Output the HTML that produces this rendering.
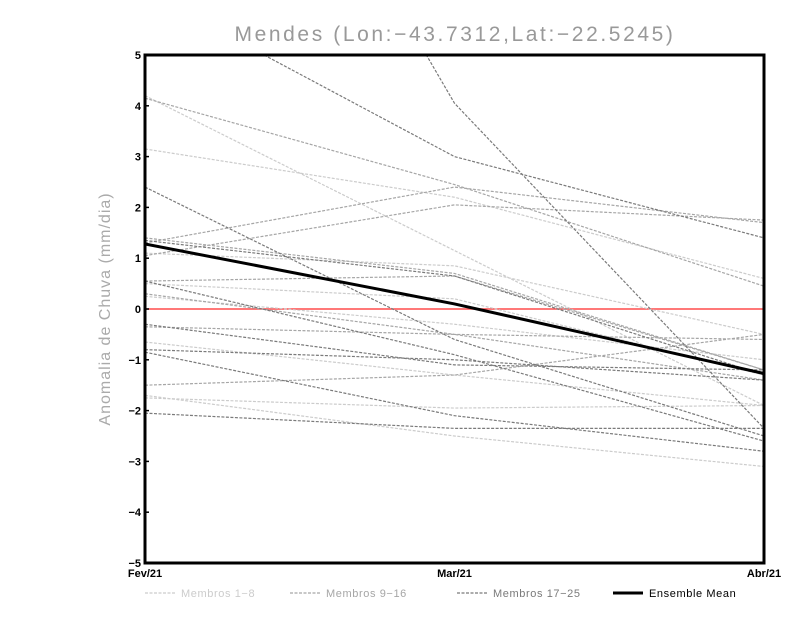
<!DOCTYPE html>
<html><head><meta charset="utf-8"><style>
body{margin:0;background:#fff;width:800px;height:618px;overflow:hidden}
svg{display:block}
text{font-family:"Liberation Sans",sans-serif}
</style></head><body>
<svg id="chart" width="800" height="618" xmlns="http://www.w3.org/2000/svg">
<defs><clipPath id="pc"><rect x="145" y="55" width="619" height="508"/></clipPath></defs>
<text x="455" y="41" text-anchor="middle" font-size="21" fill="#999" letter-spacing="2.6">Mendes (Lon:−43.7312,Lat:−22.5245)</text>
<text transform="translate(110,309) rotate(-90)" text-anchor="middle" font-size="16" fill="#aaa" letter-spacing="1">Anomalia de Chuva (mm/dia)</text>
<g id="series" clip-path="url(#pc)"></g>
<g id="axes"></g>
<g id="legend"></g>
</svg>
<script>
const categories=["Fev/21","Mar/21","Abr/21"];
const yTicks=[-5,-4,-3,-2,-1,0,1,2,3,4,5];
const groupA=[[4.2,1.15,-1.9],[3.15,2.2,0.6],[1.1,0.85,-0.5],[0.5,0.2,-1.3],[0.25,-0.3,-1.0],[-0.65,-1.3,-1.9],[-1.75,-1.95,-1.9],[-1.7,-2.5,-3.1]];
const groupB=[[4.15,2.45,0.45],[1.3,2.4,1.7],[1.05,2.05,1.75],[1.4,0.7,-1.2],[0.55,0.65,-1.2],[0.3,-0.5,-0.6],[-1.5,-1.3,-0.5],[-0.35,-0.5,-1.4]];
const groupC=[[6.25,3.0,1.4],[14.5,4.05,-2.35],[2.4,-0.6,-2.5],[1.35,0.65,-1.3],[0.55,-0.9,-2.6],[-0.3,-1.1,-1.2],[-0.85,-2.1,-2.8],[-2.05,-2.35,-2.35],[-0.8,-1.0,-1.4]];
const ensembleMean=[1.28,0.1,-1.27];
const NS="http://www.w3.org/2000/svg";
const X0=145,X1=764,Y0=55,Y1=563;
const xs=i=>X0+(X1-X0)*i/(categories.length-1);
const ys=v=>Y1-(v+5)/10*(Y1-Y0);
function mk(t,a,p){const e=document.createElementNS(NS,t);for(const k in a)e.setAttribute(k,a[k]);p.appendChild(e);return e;}
const ser=document.getElementById('series');
const pts=d=>d.map((v,i)=>xs(i)+","+ys(v)).join(" ");
let z=mk('line',{x1:X0,x2:X1,y1:ys(0),y2:ys(0),stroke:'#ff4c4c','stroke-width':1.5},ser);


[[groupA,'#cccccc','members-1-8'],[groupB,'#a6a6a6','members-9-16'],[groupC,'#7a7a7a','members-17-25']].forEach(([g,c,n])=>{
 g.forEach((d,k)=>{
  const l=mk('polyline',{points:pts(d),fill:'none',stroke:c,'stroke-width':1.2,'stroke-dasharray':'3,1.5'},ser);
  
  
 });
});
const m=mk('polyline',{points:pts(ensembleMean),fill:'none',stroke:'#000','stroke-width':3},ser);


const ax=document.getElementById('axes');
const fr=mk('rect',{x:X0,y:Y0,width:X1-X0,height:Y1-Y0,fill:'none',stroke:'#000','stroke-width':3},ax);


yTicks.forEach(v=>{
 const t=mk('text',{x:X0-4,y:ys(v)+4,'text-anchor':'end','font-size':11,'font-weight':'bold',fill:'#000'},ax);
 t.textContent=String(v).replace('-','−');
 
 
 mk('line',{x1:X0,x2:X0+4,y1:ys(v),y2:ys(v),stroke:'#000','stroke-width':1.5},ax);
});
categories.forEach((c,i)=>{
 const t=mk('text',{x:xs(i),y:Y1+14,'text-anchor':'middle','font-size':11,'font-weight':'bold',fill:'#000'},ax);
 t.textContent=c;
 
 
});
const lg=document.getElementById('legend');
[['Membros 1−8','#cccccc',145,'3,1.5',1.2],['Membros 9−16','#a6a6a6',290,'3,1.5',1.2],['Membros 17−25','#7a7a7a',457,'3,1.5',1.2],['Ensemble Mean','#000',613,'',3]].forEach(([n,c,x,da,w])=>{
 const g=mk('g',{},lg);
 
 
 mk('line',{x1:x,x2:x+30,y1:593,y2:593,stroke:c,'stroke-width':w,'stroke-dasharray':da},g);
 const t=mk('text',{x:x+36,y:597,'font-size':11,fill:c,'letter-spacing':0.6},g);
 t.textContent=n;
});
</script>
</body></html>
